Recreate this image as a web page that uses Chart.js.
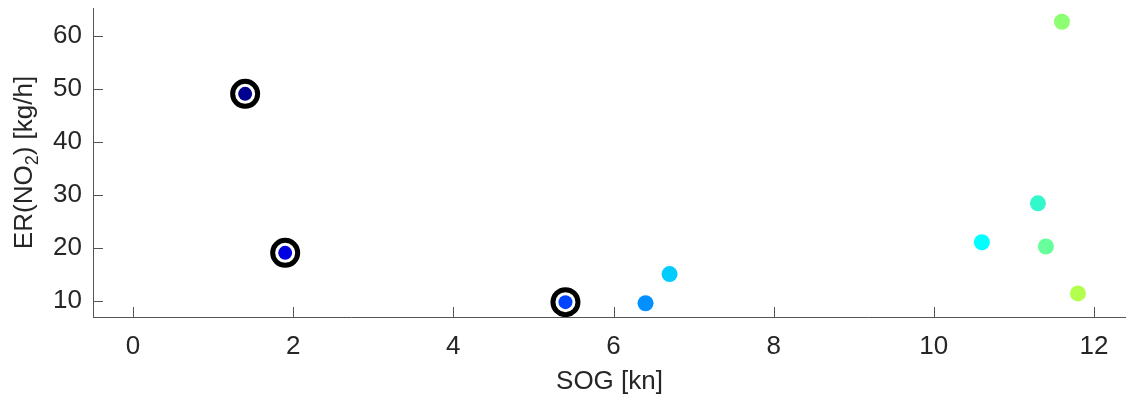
<!DOCTYPE html>
<html>
<head>
<meta charset="utf-8">
<script src="https://cdn.jsdelivr.net/npm/chart.js@4.4.1/dist/chart.umd.min.js"></script>
<style>
  html, body { margin: 0; padding: 0; background: #fff; }
  #wrap { width: 1126px; height: 397px; }
</style>
</head>
<body>
<div id="wrap"><canvas id="chart"></canvas></div>
<script>
// speed over ground vs NO2 emission rate
const sog    = [1.4, 1.9, 5.4, 6.4, 6.7, 10.6, 11.3, 11.4, 11.8, 11.6];
const erNO2  = [49.1, 19.1, 9.8, 9.6, 15.1, 21.1, 28.45, 20.3, 11.45, 62.7];
const dotColors = ['#000090', '#0000e0', '#0044ff', '#0090ff', '#00ccff',
                   '#00ffff', '#33f8cc', '#66ff99', '#b3ff4d', '#8cff73'];
// the points that get a black ring
const ringed = [0, 1, 2];

const xTicks = [0, 2, 4, 6, 8, 10, 12];
const yTicks = [10, 20, 30, 40, 50, 60];

const FONT = 'Liberation Sans, Arial, Helvetica, sans-serif';
const FS = 26;
const TXT = '#262626';
const AXIS = '#555555';

let pts = sog.map((x, i) => ({ x: x, y: erNO2[i] }));
let ringPts = ringed.map(i => pts[i]);

// inward tick marks + y label with subscript
const extras = {
  id: 'extras',
  afterDraw(c) {
    const ctx = c.ctx;
    const a = c.chartArea;
    const xs = c.scales.x, ys = c.scales.y;
    ctx.save();
    ctx.strokeStyle = AXIS;
    ctx.lineWidth = 1;
    ctx.beginPath();
    xTicks.forEach(v => {
      const px = Math.round(xs.getPixelForValue(v)) + 0.5;
      ctx.moveTo(px, a.bottom);
      ctx.lineTo(px, a.bottom - 10);
    });
    yTicks.forEach(v => {
      const py = Math.round(ys.getPixelForValue(v)) + 0.5;
      ctx.moveTo(a.left, py);
      ctx.lineTo(a.left + 10, py);
    });
    ctx.stroke();

    // ER(NO_2) [kg/h]
    const big = FS + 'px ' + FONT, small = Math.round(FS * 0.7) + 'px ' + FONT;
    ctx.fillStyle = TXT;
    ctx.textBaseline = 'middle';
    ctx.textAlign = 'left';
    const p1 = 'ER(NO', p2 = '2', p3 = ') [kg/h]';
    ctx.font = big;
    const w1 = ctx.measureText(p1).width, w3 = ctx.measureText(p3).width;
    ctx.font = small;
    const w2 = ctx.measureText(p2).width;
    const total = w1 + w2 + w3;
    ctx.translate(25, (a.top + a.bottom) / 2);
    ctx.rotate(-Math.PI / 2);
    let x0 = -total / 2;
    ctx.font = big;
    ctx.fillText(p1, x0, 0);
    ctx.font = small;
    ctx.fillText(p2, x0 + w1, 8);
    ctx.font = big;
    ctx.fillText(p3, x0 + w1 + w2, 0);
    ctx.restore();
  }
};

new Chart(document.getElementById('chart'), {
  type: 'scatter',
  data: {
    datasets: [
      {
        data: ringPts,
        pointRadius: 12.5,
        pointBackgroundColor: '#ffffff',
        pointBorderColor: '#000000',
        pointBorderWidth: 5,
        order: 2
      },
      {
        data: pts,
        pointRadius: pts.map((p, i) => ringed.includes(i) ? 7 : 8),
        pointBackgroundColor: dotColors,
        pointBorderWidth: 0,
        order: 1
      }
    ]
  },
  options: {
    responsive: true,
    maintainAspectRatio: false,
    animation: false,
    layout: { autoPadding: false, padding: { top: 8, right: 0, left: 0, bottom: 0 } },
    plugins: { legend: { display: false }, tooltip: { enabled: false } },
    scales: {
      x: {
        type: 'linear',
        min: -0.5,
        max: 12.4,
        afterBuildTicks: s => { s.ticks = xTicks.map(v => ({ value: v })); },
        afterFit: s => { s.height = 80; s.paddingLeft = 0; s.paddingRight = 0; },
        grid: { display: false, drawTicks: false },
        border: { display: true, color: AXIS, width: 1 },
        ticks: { color: TXT, font: { family: FONT, size: FS }, padding: 14, maxRotation: 0 },
        title: { display: true, text: 'SOG [kn]', color: TXT,
                 font: { family: FONT, size: FS }, padding: { top: 4, bottom: 0 } }
      },
      y: {
        type: 'linear',
        min: 7,
        max: 65.3,
        afterBuildTicks: s => { s.ticks = yTicks.map(v => ({ value: v })); },
        afterFit: s => { s.width = 93; s.paddingTop = 0; s.paddingBottom = 0; },
        grid: { display: false, drawTicks: false },
        border: { display: true, color: AXIS, width: 1 },
        ticks: { color: TXT, font: { family: FONT, size: FS }, padding: 11 }
      }
    }
  },
  plugins: [extras]
});
</script>
</body>
</html>
